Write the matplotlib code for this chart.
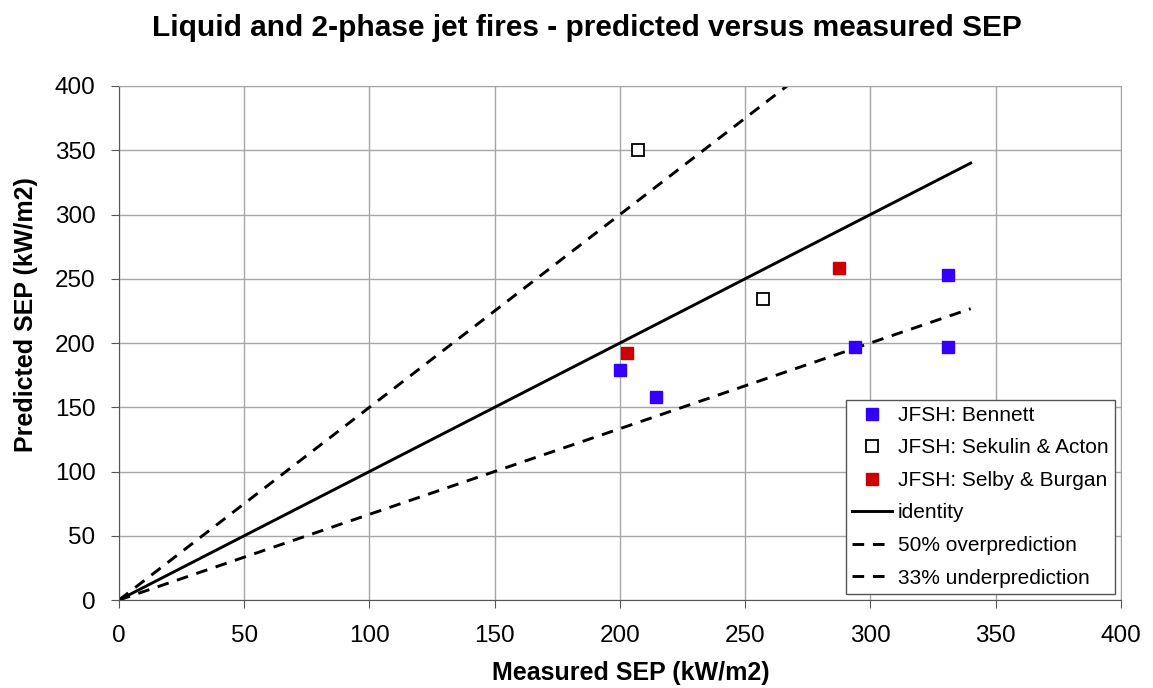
import matplotlib
matplotlib.use('Agg')
import matplotlib.pyplot as plt

plt.rcParams['font.family'] = ['Liberation Sans', 'DejaVu Sans']

# measured vs predicted SEP (kW/m2)
bennett_x = [200, 214.5, 294, 331, 331]
bennett_y = [179, 158, 197, 253, 197]
sekulin_x = [207, 257]
sekulin_y = [350, 234]
selby_x = [203, 287.5]
selby_y = [192, 258]

line_x = [0, 340]
identity_y = [0, 340]
over_y = [0, 510]
under_y = [0, 226.7]

fig = plt.figure(figsize=(11.53, 6.88), dpi=100)
ax = fig.add_axes([0.1032, 0.1279, 0.869, 0.7471])

ax.plot(bennett_x, bennett_y, 's', ms=9, color='#3300ff', mec='#3300ff', lw=0, label='JFSH: Bennett', zorder=5)
ax.plot(sekulin_x, sekulin_y, 's', ms=8.5, mfc='white', mec='black', mew=1.3, lw=0, label='JFSH: Sekulin & Acton', zorder=5)
ax.plot(selby_x, selby_y, 's', ms=8.5, color='#cc0000', lw=0, label='JFSH: Selby & Burgan', zorder=5)
ax.plot(line_x, identity_y, '-', color='black', lw=2.1, label='identity')
ax.plot(line_x, over_y, '--', color='black', lw=2.1, dashes=(4, 3), label='50% overprediction')
ax.plot(line_x, under_y, '--', color='black', lw=2.1, dashes=(4, 3), label='33% underprediction')

ax.set_xlim(0, 400)
ax.set_ylim(0, 400)
ax.set_xticks(range(0, 401, 50))
ax.set_yticks(range(0, 401, 50))
ax.grid(True, color='#a6a6a6', lw=1)
ax.set_axisbelow(True)
ax.tick_params(labelsize=17.5, length=6, color='#555555')
ax.tick_params(axis='y', pad=11)
ax.tick_params(axis='x', pad=12)
for s in ['top', 'right']:
    ax.spines[s].set_color('#a6a6a6')
for s in ['left', 'bottom']:
    ax.spines[s].set_color('#555555')

fig.text(631 / 1153, 1 - 673 / 688, 'Measured SEP (kW/m2)', fontsize=18, fontweight='bold',
         ha='center', va='center')
fig.text(26 / 1153, 1 - 315 / 688, 'Predicted SEP (kW/m2)', fontsize=18, fontweight='bold',
         ha='center', va='center', rotation=90)
fig.text(586.5 / 1153, 1 - 28 / 688, 'Liquid and 2-phase jet fires - predicted versus measured SEP',
         fontsize=21.5, fontweight='bold', ha='center', va='center')

leg = ax.legend(loc='lower right', fontsize=15, frameon=True, fancybox=False,
                edgecolor='#555555', framealpha=1, borderaxespad=0.3,
                handlelength=1.9, handletextpad=0.3, labelspacing=0.65,
                borderpad=0.3)
leg.get_frame().set_linewidth(1)

fig.savefig('out.png', dpi=100)
